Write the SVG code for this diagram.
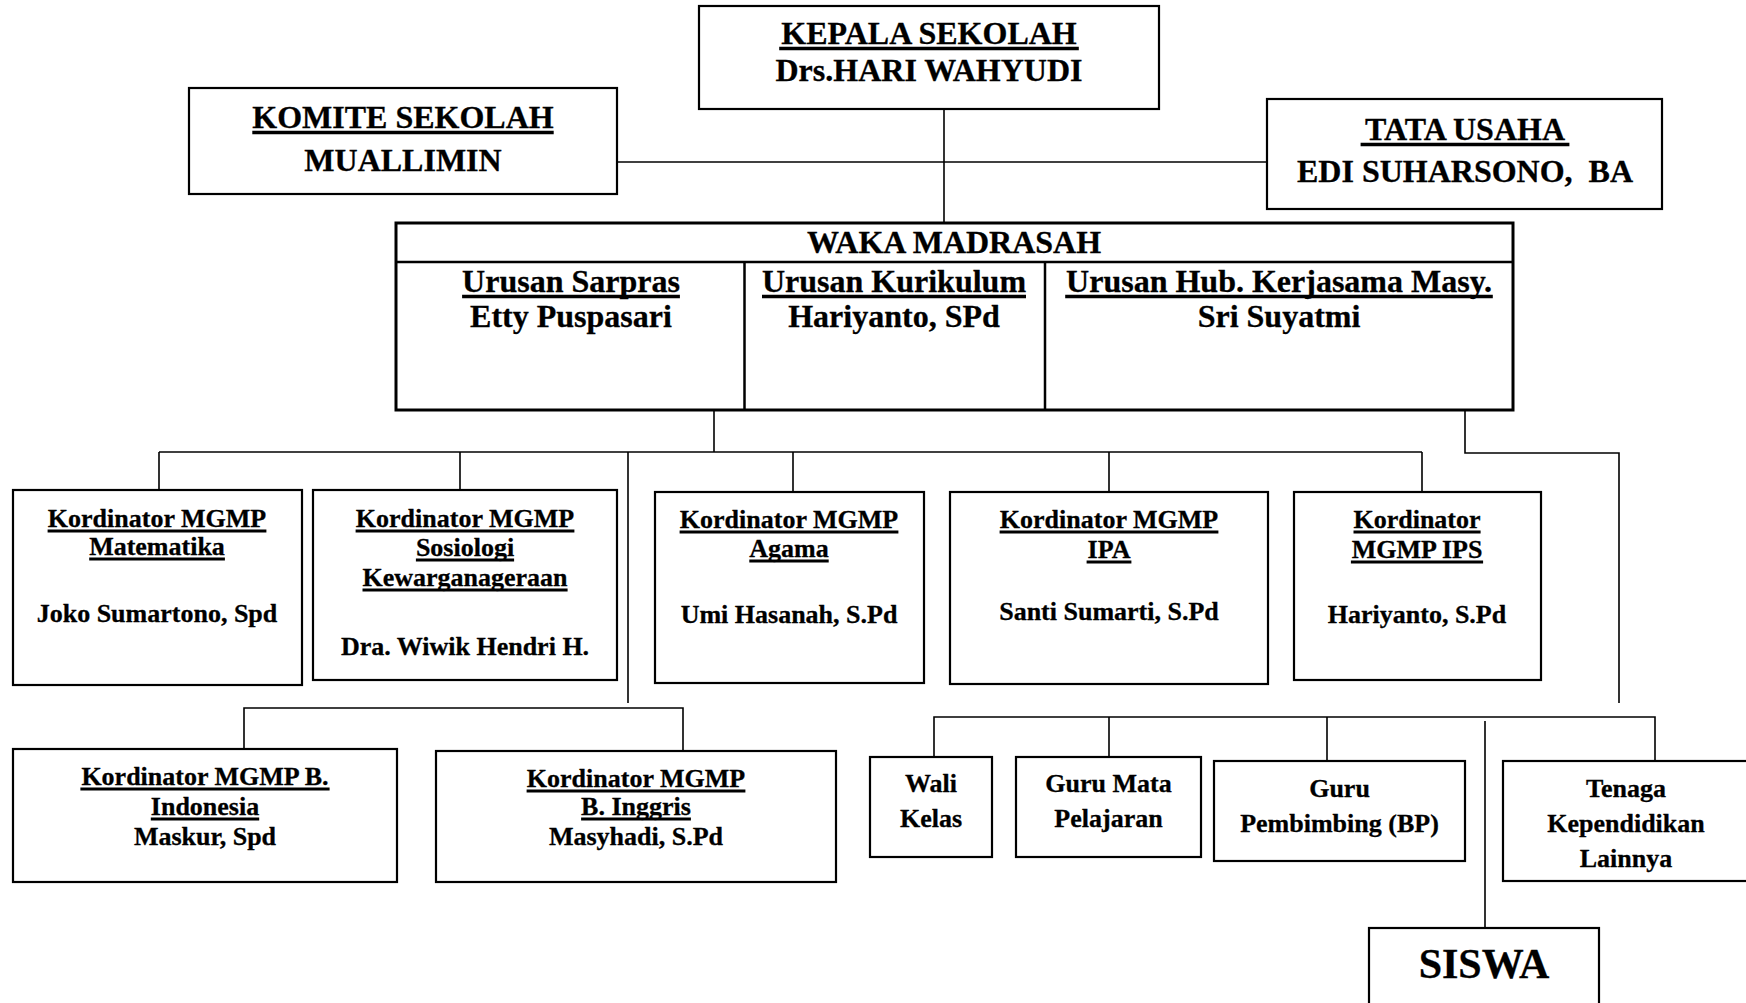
<svg xmlns="http://www.w3.org/2000/svg" width="1746" height="1003" viewBox="0 0 1746 1003">
<style>
text{font-family:"Liberation Serif","Times New Roman",serif;font-weight:bold;fill:#000;stroke:#000;stroke-width:0.3;text-anchor:middle}
.b{fill:#fff;stroke:#000;stroke-width:2.2}
.w{fill:#fff;stroke:#000;stroke-width:3}
.l{font-size:32px}
.m{font-size:26px}
.s{font-size:42px}
.ul{fill:none;stroke:#000;stroke-width:3.5}
.um{fill:none;stroke:#000;stroke-width:3}
#connectors path{fill:none;stroke:#000;stroke-width:1.6}
</style>
<rect width="1746" height="1003" fill="#fff"/>
<g id="connectors">
<path d="M944 109V223"/>
<path d="M617 162H1267"/>
<path d="M714 410V452"/>
<path d="M159 452H1422"/>
<path d="M159 452V490M460 452V490M793 452V492M1109 452V492M1422 452V492"/>
<path d="M628 452V703"/>
<path d="M244 749V708H683V751"/>
<path d="M1465 410V453H1619V703"/>
<path d="M934 757V717H1655V761"/>
<path d="M1109 717V757M1327 717V761M1485 721V928"/>
</g>
<g id="kepala">
<rect class="b" x="699" y="6" width="460" height="103"/>
<text class="l" x="929" y="44">KEPALA SEKOLAH</text>
<path class="ul" d="M779.2 48.5H1078.8"/>
<text class="l" x="929" y="81">Drs.HARI WAHYUDI</text>
</g>
<g id="komite">
<rect class="b" x="189" y="88" width="428" height="106"/>
<text class="l" x="403" y="128">KOMITE SEKOLAH</text>
<path class="ul" d="M252.3 132.5H553.7"/>
<text class="l" x="403" y="171">MUALLIMIN</text>
</g>
<g id="tata-usaha">
<rect class="b" x="1267" y="99" width="395" height="110"/>
<text class="l" x="1465" y="140">TATA USAHA</text>
<path class="ul" d="M1360.6 144.5H1569.4"/>
<text class="l" x="1465" y="182" xml:space="preserve">EDI SUHARSONO,  BA</text>
</g>
<g id="waka">
<rect class="w" x="396" y="223" width="1117" height="187"/>
<path d="M396 262H1513M744.5 262V410M1045 262V410" stroke="#000" stroke-width="2.5" fill="none"/>
<text class="l" x="954" y="253">WAKA MADRASAH</text>
<text class="l" x="571" y="292">Urusan Sarpras</text>
<text class="l" x="571" y="327">Etty Puspasari</text>
<text class="l" x="894" y="292">Urusan Kurikulum</text>
<text class="l" x="894" y="327">Hariyanto, SPd</text>
<text class="l" x="1279" y="292">Urusan Hub. Kerjasama Masy.</text>
<text class="l" x="1279" y="327">Sri Suyatmi</text>
<path class="ul" d="M462.1 296.5H679.9M762 296.5H1026M1065.2 296.5H1492.8"/>
</g>
<g id="mgmp-matematika">
<rect class="b" x="13" y="490" width="289" height="195"/>
<text class="m" x="157" y="527">Kordinator MGMP</text>
<text class="m" x="157" y="555">Matematika</text>
<path class="um" d="M47.6 531H266.4M89.2 559H224.9"/>
<text class="m" x="157" y="622">Joko Sumartono, Spd</text>
</g>
<g id="mgmp-sosiologi">
<rect class="b" x="313" y="490" width="304" height="190"/>
<text class="m" x="465" y="527">Kordinator MGMP</text>
<text class="m" x="465" y="556">Sosiologi</text>
<text class="m" x="465" y="586">Kewarganageraan</text>
<path class="um" d="M355.6 531H574.4M415.9 560H514.1M362.5 590H567.6"/>
<text class="m" x="465" y="655">Dra. Wiwik Hendri H.</text>
</g>
<g id="mgmp-agama">
<rect class="b" x="655" y="492" width="269" height="191"/>
<text class="m" x="789" y="528">Kordinator MGMP</text>
<text class="m" x="789" y="557">Agama</text>
<path class="um" d="M679.6 532H898.4M749.3 561H828.7"/>
<text class="m" x="789" y="623">Umi Hasanah, S.Pd</text>
</g>
<g id="mgmp-ipa">
<rect class="b" x="950" y="492" width="318" height="192"/>
<text class="m" x="1109" y="528">Kordinator MGMP</text>
<text class="m" x="1109" y="558">IPA</text>
<path class="um" d="M999.6 532H1218.4M1086.6 562H1131.4"/>
<text class="m" x="1109" y="620">Santi Sumarti, S.Pd</text>
</g>
<g id="mgmp-ips">
<rect class="b" x="1294" y="492" width="247" height="188"/>
<text class="m" x="1417" y="528">Kordinator</text>
<text class="m" x="1417" y="558">MGMP IPS</text>
<path class="um" d="M1353.5 532H1480.6M1350.9 562H1483.1"/>
<text class="m" x="1417" y="623">Hariyanto, S.Pd</text>
</g>
<g id="mgmp-bindonesia">
<rect class="b" x="13" y="749" width="384" height="133"/>
<text class="m" x="205" y="785">Kordinator MGMP B.</text>
<text class="m" x="205" y="815">Indonesia</text>
<path class="um" d="M80.4 789H329.6M150.8 819H259.2"/>
<text class="m" x="205" y="845">Maskur, Spd</text>
</g>
<g id="mgmp-binggris">
<rect class="b" x="436" y="751" width="400" height="131"/>
<text class="m" x="636" y="787">Kordinator MGMP</text>
<text class="m" x="636" y="815">B. Inggris</text>
<path class="um" d="M526.6 791H745.4M581.1 819H690.9"/>
<text class="m" x="636" y="845">Masyhadi, S.Pd</text>
</g>
<g id="wali-kelas">
<rect class="b" x="870" y="757" width="122" height="100"/>
<text class="m" x="931" y="792">Wali</text>
<text class="m" x="931" y="827">Kelas</text>
</g>
<g id="guru-mata-pelajaran">
<rect class="b" x="1016" y="757" width="185" height="100"/>
<text class="m" x="1108.5" y="792">Guru Mata</text>
<text class="m" x="1108.5" y="827">Pelajaran</text>
</g>
<g id="guru-bp">
<rect class="b" x="1214" y="761" width="251" height="100"/>
<text class="m" x="1339.5" y="797">Guru</text>
<text class="m" x="1339.5" y="832">Pembimbing (BP)</text>
</g>
<g id="tenaga-kependidikan">
<rect class="b" x="1503" y="761" width="260" height="120"/>
<text class="m" x="1626" y="797">Tenaga</text>
<text class="m" x="1626" y="832">Kependidikan</text>
<text class="m" x="1626" y="867">Lainnya</text>
</g>
<g id="siswa">
<rect class="b" x="1369" y="928" width="230" height="90"/>
<text class="s" x="1484" y="978">SISWA</text>
</g>
</svg>
